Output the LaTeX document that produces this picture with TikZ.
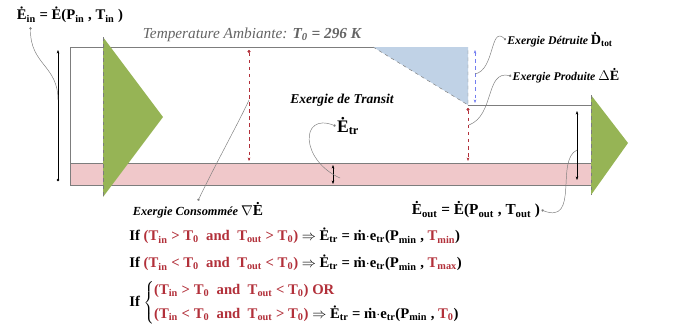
\documentclass[tikz,border=0pt]{standalone}
\usepackage{fontspec}
\setmainfont{Liberation Serif}
\usetikzlibrary{arrows.meta, positioning, calc}
\definecolor{bandpink}{RGB}{240,200,202}
\definecolor{flowgreen}{RGB}{150,180,85}
\definecolor{lossblue}{RGB}{192,210,230}
\definecolor{condred}{RGB}{178,48,58}
\definecolor{wallgray}{RGB}{125,125,125}
\newcommand{\sub}[1]{\textsubscript{#1}}
\newcommand{\cond}[1]{\textcolor{condred}{#1}}

\begin{document}
\begin{tikzpicture}[x=0.85pt, y=-0.85pt,
    lbl/.style={font=\bfseries\itshape\fontsize{10}{12}\selectfont, inner sep=1pt},
    eqn/.style={font=\bfseries\fontsize{12}{14}\selectfont, inner sep=1pt},
    frm/.style={font=\bfseries\fontsize{12.5}{15}\selectfont, inner sep=1pt, anchor=west},
    lead/.style={draw=wallgray, thin, {Circle[length=2pt]}-},
    reddash/.style={condred, dashed, thin, {Circle[length=2.5pt]}-{Stealth[length=3pt]}},
    gap/.style={black, thin, {Stealth[length=3pt]}-{Stealth[length=3pt]}}]
\useasboundingbox (0,0) rectangle (685,335);

% flow body
\fill[bandpink] (70,163) rectangle (591,185);
\draw[wallgray, thick] (70,163) -- (591,163);
\draw[wallgray, thick] (591,105) -- (468,105);
\draw[wallgray, thick] (468,47) -- (70,47) -- (70,185) -- (591,185);

% destroyed exergy
\fill[lossblue] (373,47) -- (468,47) -- (468,105) -- cycle;
\draw[wallgray, dashed] (373,47) -- (468,105) -- (468,47);

% inlet and outlet flows
\fill[flowgreen] (103,37) -- (163,117) -- (103,197) -- cycle;
\draw[wallgray, dashed] (103,37) -- (103,197);
\fill[flowgreen] (591,95) -- (628,143) -- (591,195) -- cycle;
\draw[wallgray, dashed] (591,95) -- (591,195);

% markers
\draw[reddash] (249,50) -- (249,161);
\draw[reddash] (468,108) -- (468,161);
\draw[gap] (333,165) -- (333,184);
\draw[black, thin, -{Stealth[length=3pt]}] (58,180) -- (58,50);
\fill (58,180) circle (1.2pt);
\draw[gap] (577,111) -- (577,180);
\draw[lossblue!60!blue, dashed, thin, {Stealth[length=3pt]}-{Stealth[length=3pt]}] (475,50) -- (475,103);

% labels
\node[font=\bfseries\fontsize{12.5}{14}\selectfont, inner sep=1pt] (ein) at (70,15) {\.E\sub{in} = \.E(P\sub{in} , T\sub{in} )};
\node[font=\itshape\fontsize{13}{15}\selectfont, text=wallgray!80!black, inner sep=1pt] (tamb) at (252,35)
    {Temperature Ambiante: \textbf{T\sub{0} = 296 K}};
\node[lbl, font=\bfseries\itshape\fontsize{11.5}{13}\selectfont] (transit) at (342,100) {Exergie de Transit};
\node[font=\bfseries\fontsize{15}{17}\selectfont, inner sep=1pt] (etr) at (348,126) {\.E\sub{tr}};
\node[lbl, font=\bfseries\itshape\fontsize{10.5}{12}\selectfont] (consom) at (198,210) {Exergie Consommée {\upshape\fontsize{13}{15}\selectfont$\nabla$\.E}};
\node[lbl] (detr) at (560,40) {Exergie Détruite {\upshape\large \.D\sub{tot}}};
\node[lbl] (prod) at (566,76) {Exergie Produite {\upshape\large $\Delta$\.E}};
\node[eqn, font=\bfseries\fontsize{13}{15}\selectfont] (eout) at (476,210) {\.E\sub{out} = \.E(P\sub{out} , T\sub{out} )};

% leader ends
\coordinate (inwall) at (58,100);
\coordinate (conswall) at (249,100);
\coordinate (trband) at (340,178);
\coordinate (detrwall) at (475,74);
\coordinate (prodwall) at (469,125);
\coordinate (outwall) at (577,150);

% leaders
\draw[lead] ($(ein.south west)+(15,3)$) .. controls (30,65) and (58,65) .. (inwall);
\draw[lead] (consom.north) .. controls (215,165) and (240,120) .. (conswall);
\draw[lead] (etr.west) .. controls (300,112) and (300,160) .. (trband);
\draw[lead] (detr.west) .. controls (490,25) and (495,70) .. (detrwall);
\draw[lead] (prod.west) .. controls (485,70) and (495,115) .. (prodwall);
\draw[lead] (eout.east) .. controls (580,225) and (555,160) .. (outwall);

% transit exergy rules
\node[frm] (rule1) at (128,236) {If \cond{(T\sub{in} > T\sub{0} \ and \ T\sub{out} > T\sub{0})}
    $\Rightarrow$ \.E\sub{tr} = \.m$\cdot$e\sub{tr}(P\sub{min} , \cond{T\sub{min}})};
\node[frm] (rule2) at (128,263) {If \cond{(T\sub{in} < T\sub{0} \ and \ T\sub{out} < T\sub{0})}
    $\Rightarrow$ \.E\sub{tr} = \.m$\cdot$e\sub{tr}(P\sub{min} , \cond{T\sub{max}})};
\node[frm] (rule3) at (128,303) {If $\left\{\begin{tabular}{@{}l@{}}
    \cond{(T\sub{in} > T\sub{0} \ and \ T\sub{out} < T\sub{0}) OR}\\[5pt]
    \cond{(T\sub{in} < T\sub{0} \ and \ T\sub{out} > T\sub{0})}
    $\Rightarrow$ \.E\sub{tr} = \.m$\cdot$e\sub{tr}(P\sub{min} , \cond{T\sub{0}})
    \end{tabular}\right.$};
\end{tikzpicture}
\end{document}
